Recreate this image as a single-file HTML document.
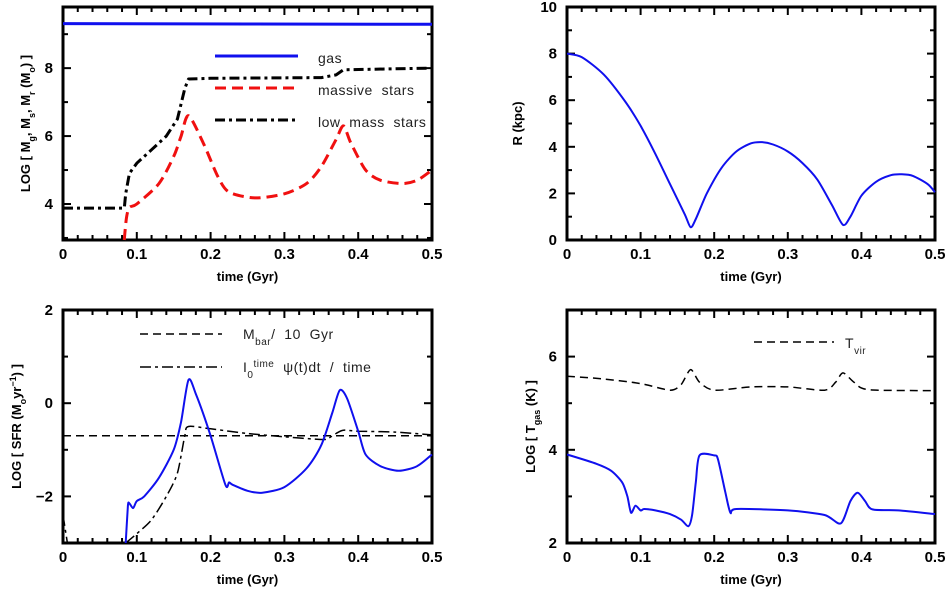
<!DOCTYPE html>
<html><head><meta charset="utf-8"><style>
body{margin:0;background:#fff;}
svg{display:block;font-family:"Liberation Sans",sans-serif;}
.tk{font-weight:bold;font-size:15px;}
.al{font-weight:bold;font-size:13px;}
.lg{font-size:14px;fill:#222;white-space:pre;letter-spacing:0.5px;}
</style></head><body>
<svg id="c" width="947" height="589" viewBox="0 0 947 589"></svg>
<script>
// Panel A: masses
const tA = [0,0.083,0.085,0.09,0.1,0.12,0.14,0.155,0.165,0.17,0.2,0.35,0.37,0.38,0.5];
const lowMass = [3.88,3.88,4.3,4.9,5.2,5.6,6.0,6.5,7.4,7.68,7.7,7.72,7.8,7.95,8.0];
const tB = [0.083,0.086,0.09,0.1,0.13,0.15,0.16,0.17,0.19,0.21,0.225,0.26,0.3,0.33,0.35,0.37,0.38,0.39,0.41,0.43,0.46,0.48,0.5];
const massive = [2.94,3.6,3.9,4.0,4.6,5.4,6.0,6.6,5.8,4.8,4.35,4.18,4.3,4.6,5.1,5.9,6.3,5.8,5.0,4.7,4.6,4.7,5.0];
const tGas = [0,0.25,0.5];
const gasMass = [9.31,9.3,9.29];
// Panel B: radius
const tR = [0,0.02,0.05,0.08,0.1,0.12,0.14,0.16,0.168,0.175,0.19,0.21,0.23,0.25,0.265,0.28,0.3,0.32,0.34,0.36,0.375,0.385,0.4,0.42,0.44,0.455,0.47,0.49,0.5];
const radius = [8.0,7.85,7.1,5.9,4.9,3.7,2.4,1.1,0.55,0.9,2.0,3.1,3.8,4.15,4.2,4.1,3.8,3.3,2.6,1.5,0.65,1.0,1.9,2.5,2.78,2.82,2.75,2.4,2.05];
// Panel C: SFR
const tS = [0.085,0.088,0.09,0.095,0.1,0.11,0.13,0.15,0.16,0.17,0.18,0.2,0.22,0.225,0.23,0.25,0.27,0.3,0.33,0.35,0.365,0.375,0.385,0.4,0.41,0.43,0.455,0.48,0.5];
const sfr = [-3,-2.2,-2.15,-2.25,-2.1,-2.0,-1.6,-1.0,-0.4,0.5,0.2,-0.7,-1.75,-1.7,-1.75,-1.88,-1.92,-1.8,-1.4,-0.9,-0.2,0.28,0.1,-0.6,-1.1,-1.35,-1.45,-1.35,-1.1];
const tM = [0,0.5];
const mbar = [-0.7,-0.7];
const tAvg0 = [0,0.006];
const avgEarly = [-2.4,-3];
const tAvg = [0.085,0.1,0.12,0.14,0.155,0.165,0.17,0.2,0.25,0.3,0.35,0.36,0.37,0.38,0.4,0.45,0.5];
const avgSfr = [-3,-2.8,-2.5,-2.0,-1.5,-0.7,-0.5,-0.55,-0.65,-0.72,-0.78,-0.75,-0.65,-0.58,-0.6,-0.62,-0.68];
// Panel D: temperature
const tV = [0,0.05,0.1,0.14,0.155,0.168,0.18,0.2,0.25,0.3,0.35,0.365,0.375,0.39,0.41,0.5];
const tvir = [5.58,5.52,5.42,5.28,5.4,5.72,5.45,5.28,5.35,5.35,5.28,5.45,5.65,5.45,5.29,5.27];
const tT = [0,0.04,0.06,0.075,0.082,0.087,0.093,0.1,0.105,0.12,0.14,0.155,0.165,0.17,0.175,0.18,0.2,0.205,0.215,0.222,0.23,0.3,0.35,0.372,0.385,0.395,0.405,0.415,0.45,0.5];
const tgas = [3.9,3.7,3.55,3.3,3.0,2.65,2.8,2.7,2.73,2.7,2.62,2.5,2.36,2.6,3.3,3.88,3.88,3.8,3.1,2.65,2.73,2.7,2.6,2.42,2.9,3.08,2.9,2.72,2.7,2.62];
const xTicks = ["0","0.1","0.2","0.3","0.4","0.5"];

const NS="http://www.w3.org/2000/svg", svg=document.getElementById('c');
function el(tag,attrs,parent){const e=document.createElementNS(NS,tag);for(const k in attrs)e.setAttribute(k,attrs[k]);(parent||svg).appendChild(e);return e;}

function panel(name,x0,y0,x1,y1,ymin,ymax,ymajor,yLabels,ylabX,ylabHTML){
  const g=el('g',{});
  
  
  const sx=t=>x0+(t/0.5)*(x1-x0), sy=v=>y1-(v-ymin)/(ymax-ymin)*(y1-y0);
  for(let i=0;i<=25;i++){const t=i*0.02,x=sx(t),L=(i%5===0)?8:5;
    el('line',{x1:x,y1:y1,x2:x,y2:y1-L,stroke:'#000','stroke-width':2},g);
    el('line',{x1:x,y1:y0,x2:x,y2:y0+L,stroke:'#000','stroke-width':2},g);}
  for(let v=Math.ceil(ymin);v<=ymax;v++){const y=sy(v),L=(v%ymajor===0)?8:5;
    el('line',{x1:x0,y1:y,x2:x0+L,y2:y,stroke:'#000','stroke-width':2},g);
    el('line',{x1:x1,y1:y,x2:x1-L,y2:y,stroke:'#000','stroke-width':2},g);}
  el('rect',{x:x0,y:y0,width:x1-x0,height:y1-y0,fill:'none',stroke:'#000','stroke-width':3},g);
  xTicks.forEach((s,i)=>{const t=el('text',{x:sx(i*0.1),y:y1+19,'text-anchor':'middle',class:'tk'},g);t.textContent=s;
    
    });
  yLabels.forEach(v=>{const t=el('text',{x:x0-10,y:sy(v)+5,'text-anchor':'end',class:'tk'},g);t.textContent=String(v).replace('-','\u2212');
    
    });
  const xl=el('text',{x:(x0+x1)/2,y:y1+41,'text-anchor':'middle',class:'al'},g);xl.textContent='time (Gyr)';
  
  
  const yl=el('text',{x:0,y:0,'text-anchor':'middle',class:'al',transform:`translate(${ylabX},${(y0+y1)/2}) rotate(-90)`},g);
  yl.innerHTML=ylabHTML;
  
  
  const clip=el('clipPath',{id:'cl'+name},g);el('rect',{x:x0,y:y0-2,width:x1-x0+2,height:y1-y0+4},clip);
  return {g,sx,sy,clip:'url(#cl'+name+')'};
}
function series(p,ts,vs,style,name,smooth){
  const P=ts.map((t,i)=>[p.sx(t),p.sy(vs[i])]);
  let d='M'+P[0][0].toFixed(1)+','+P[0][1].toFixed(1);
  for(let i=1;i<P.length;i++){
    if(!smooth){d+='L'+P[i][0].toFixed(1)+','+P[i][1].toFixed(1);continue;}
    const p0=P[Math.max(0,i-2)],p1=P[i-1],p2=P[i],p3=P[Math.min(P.length-1,i+1)];
    const k=1/6*0.8;
    const c1=[p1[0]+(p2[0]-p0[0])*k,p1[1]+(p2[1]-p0[1])*k];
    const c2=[p2[0]-(p3[0]-p1[0])*k,p2[1]-(p3[1]-p1[1])*k];
    d+='C'+c1.map(v=>v.toFixed(1)).join(',')+' '+c2.map(v=>v.toFixed(1)).join(',')+' '+p2[0].toFixed(1)+','+p2[1].toFixed(1);
  }
  const path=el('path',Object.assign({d,fill:'none','stroke-linejoin':'round','clip-path':p.clip},style),p.g);
  
  
}
function legendLine(x1,x2,y,style,name){const l=el('line',Object.assign({x1,x2,y1:y,y2:y},style));
  
  }
function legendText(x,y,html,name){const t=el('text',{x,y,class:'lg'});t.innerHTML=html;
  
  }

const blue={stroke:'#1010ee','stroke-width':2};
const dashDotBlk={stroke:'#000','stroke-width':3,'stroke-dasharray':'10,4,3,4'};
const red={stroke:'#f01010','stroke-width':3,'stroke-dasharray':'11,6'};
const dashThin={stroke:'#000','stroke-width':1.5,'stroke-dasharray':'8,5'};
const dashDotThin={stroke:'#000','stroke-width':1.5,'stroke-dasharray':'11,4,3,4'};

// A
const A=panel('mass-panel',63,7,432,240,2.94,9.8,2,[4,6,8],30,
 'LOG [ M<tspan baseline-shift="sub" font-size="9">g</tspan>, M<tspan baseline-shift="sub" font-size="9">s</tspan>, M<tspan baseline-shift="sub" font-size="9">r</tspan> (M<tspan baseline-shift="sub" font-size="9">o</tspan>) ]');
series(A,tGas,gasMass,{stroke:'#1010ee','stroke-width':3},'gas-line',false);
series(A,tB,massive,red,'massive-stars-line',true);
series(A,tA,lowMass,dashDotBlk,'low-mass-stars-line',false);
legendLine(215,298,56,{stroke:'#1010ee','stroke-width':3},'legend-gas-line');
legendText(318,63,'gas','legend-gas-label');
legendLine(215,298,88,red,'legend-massive-line');
legendText(318,95,'massive  stars','legend-massive-label');
legendLine(215,298,120,dashDotBlk,'legend-lowmass-line');
legendText(318,127,'low  mass  stars','legend-lowmass-label');

// B
const B=panel('radius-panel',567,7,935,240,0,10,2,[0,2,4,6,8,10],522,'R (kpc)');
series(B,tR,radius,blue,'radius-line',true);

// C
const C=panel('sfr-panel',63,310,432,543,-3,2,2,[-2,0,2],21,
 'LOG [ SFR (M<tspan baseline-shift="sub" font-size="9">o</tspan>yr<tspan baseline-shift="super" font-size="9">\u22121</tspan>) ]');
series(C,tM,mbar,dashThin,'mbar-line',false);
series(C,tAvg0,avgEarly,dashDotThin,'avg-sfr-early-line',false);
series(C,tAvg,avgSfr,dashDotThin,'avg-sfr-line',true);
series(C,tS,sfr,blue,'sfr-line',true);
legendLine(140,222,334,dashThin,'legend-mbar-line');
legendText(243,339,'M<tspan baseline-shift="sub" font-size="10">bar</tspan>/  10  Gyr','legend-mbar-label');
legendLine(140,222,367,dashDotThin,'legend-avg-line');
legendText(243,372,'I<tspan baseline-shift="sub" font-size="10">0</tspan><tspan baseline-shift="super" font-size="10">time</tspan>  \u03C8(t)dt  /  time','legend-avg-label');

// D
const D=panel('temperature-panel',567,310,935,543,2,7,2,[2,4,6],535,
 'LOG [ T<tspan baseline-shift="sub" font-size="9">gas</tspan> (K) ]');
series(D,tV,tvir,dashThin,'tvir-line',true);
series(D,tT,tgas,blue,'tgas-line',true);
legendLine(754,834,342,dashThin,'legend-tvir-line');
legendText(845,348,'T<tspan baseline-shift="sub" font-size="10">vir</tspan>','legend-tvir-label');
</script>
</body></html>
